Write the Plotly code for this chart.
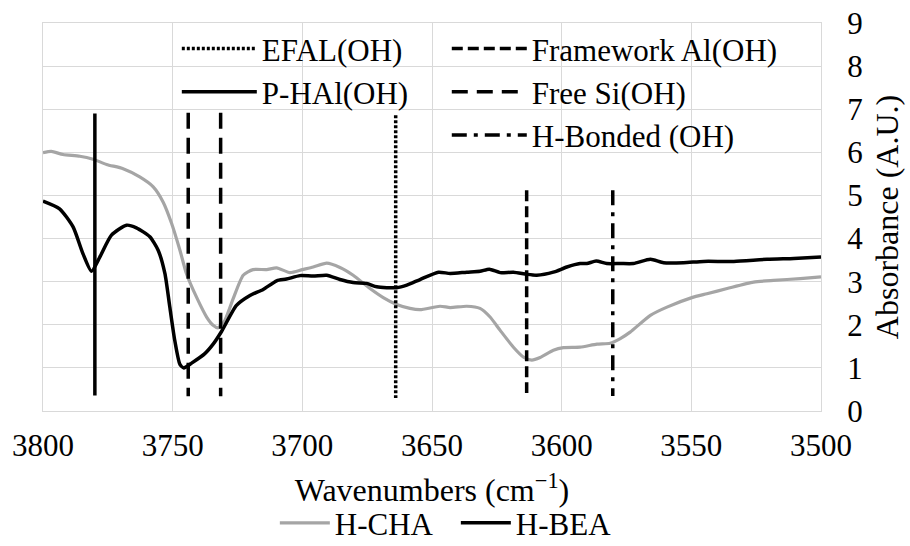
import plotly.graph_objects as go

# ---------------- data ----------------
cha_x = [3800, 3796.8, 3792.3, 3785.8, 3780.7, 3775.5, 3769.1, 3762.7, 3757.5, 3753.7,
         3750.4, 3747.2, 3744.7, 3740.8, 3736.9, 3734.4, 3732.5, 3729.9, 3726.7, 3722.8,
         3719, 3713.8, 3709.9, 3704.8, 3700, 3695.8, 3690.6, 3685.5, 3680.4, 3673.9,
         3668.8, 3663.6, 3658.5, 3654.6, 3646.9, 3643, 3636.6, 3631.5, 3627.6, 3623.7,
         3618.6, 3614.7, 3611.5, 3608.3, 3603.2, 3599.3, 3592.9, 3586.4, 3581.3, 3577.4,
         3573.6, 3565.8, 3559.4, 3549.8, 3544, 3536.2, 3526, 3518.3, 3508, 3500]
cha_y = [5.99, 6.02, 5.95, 5.91, 5.84, 5.72, 5.62, 5.43, 5.20, 4.85,
         4.35, 3.73, 3.19, 2.64, 2.18, 1.99, 1.93, 2.10, 2.60, 3.15,
         3.28, 3.28, 3.32, 3.21, 3.28, 3.34, 3.43, 3.33, 3.15, 2.84,
         2.63, 2.47, 2.38, 2.35, 2.43, 2.40, 2.43, 2.38, 2.18, 1.87,
         1.48, 1.25, 1.18, 1.24, 1.41, 1.47, 1.48, 1.55, 1.57, 1.68,
         1.83, 2.22, 2.41, 2.63, 2.72, 2.84, 2.99, 3.03, 3.07, 3.11]

bea_x = [3800, 3793.6, 3788.4, 3784.6, 3781.3, 3778.1, 3773.6, 3767.8, 3764, 3758.8,
         3755.6, 3753, 3751.1, 3749.2, 3747.2, 3745.7, 3742.7, 3737.6, 3734.4, 3731.1,
         3725.4, 3720.2, 3715.1, 3709.9, 3706.1, 3700.9, 3695.8, 3690.6, 3685.5, 3680.4,
         3675.2, 3671.3, 3663.6, 3659.7, 3654.6, 3647.5, 3643, 3636.6, 3631.5, 3627.9,
         3623.7, 3618.6, 3613.4, 3609.6, 3603.2, 3598, 3592.9, 3590.3, 3586.7, 3582.6,
         3577.4, 3572.3, 3565.8, 3560.7, 3553, 3545.3, 3533.6, 3520.8, 3510.5, 3500]
bea_y = [4.87, 4.69, 4.27, 3.65, 3.24, 3.57, 4.08, 4.31, 4.25, 4.04,
         3.73, 3.19, 2.41, 1.64, 1.08, 1.00, 1.11, 1.33, 1.55, 1.85,
         2.45, 2.68, 2.82, 3.02, 3.06, 3.14, 3.13, 3.15, 3.05, 2.98,
         2.96, 2.88, 2.86, 2.92, 3.05, 3.22, 3.19, 3.22, 3.24, 3.29,
         3.21, 3.22, 3.17, 3.15, 3.22, 3.34, 3.42, 3.42, 3.48, 3.42,
         3.42, 3.42, 3.52, 3.44, 3.44, 3.47, 3.47, 3.52, 3.54, 3.57]

# reference band markers: position(s), top, bottom
efal_x = [3664]
efal_top, efal_bot = 6.86, 0.3
phal_x = [3780]
phal_top, phal_bot = 6.9, 0.36
fw_x = [3613.5]
fw_top, fw_bot = 5.12, 0.42
freesi_x = [3744, 3731.5]
freesi_top, freesi_bot = 6.92, 0.34
hb_x = [3580.3]
hb_top, hb_bot = 5.12, 0.35

x_ticks = [3800, 3750, 3700, 3650, 3600, 3550, 3500]
y_ticks = list(range(0, 10))

FONT = "Liberation Serif"


def vline_xy(xs, top, bot):
    vx, vy = [], []
    for i, x in enumerate(xs):
        if i:
            vx.append(None)
            vy.append(None)
        vx += [x, x]
        vy += [top, bot]
    return vx, vy


fig = go.Figure()

fig.add_trace(go.Scatter(x=cha_x, y=cha_y, mode="lines", name="H-CHA",
                         line=dict(color="#a5a5a5", width=3.2, shape="spline", smoothing=0.6),
                         legend="legend3"))
fig.add_trace(go.Scatter(x=bea_x, y=bea_y, mode="lines", name="H-BEA",
                         line=dict(color="#000000", width=3.5, shape="spline", smoothing=0.6),
                         legend="legend3"))

for name, xs, top, bot, dash, leg in [
    ("EFAL(OH)", efal_x, efal_top, efal_bot, "3px,2px", "legend"),
    ("P-HAl(OH)", phal_x, phal_top, phal_bot, "solid", "legend"),
    ("Framework Al(OH)", fw_x, fw_top, fw_bot, "11px,5px", "legend2"),
    ("Free Si(OH)", freesi_x, freesi_top, freesi_bot, "16px,9px", "legend2"),
    ("H-Bonded (OH)", hb_x, hb_top, hb_bot, "15px,7px,4px,7px", "legend2"),
]:
    vx, vy = vline_xy(xs, top, bot)
    fig.add_trace(go.Scatter(x=vx, y=vy, mode="lines", name=name,
                             line=dict(color="#000000", width=3.5, dash=dash),
                             legend=leg))

legend_common = dict(bgcolor="rgba(0,0,0,0)", borderwidth=0,
                     font=dict(family=FONT, size=31, color="#000000"),
                     xanchor="left", yanchor="top", tracegroupgap=0)

fig.update_layout(
    width=910, height=546,
    margin=dict(l=43, r=89, t=23, b=135, autoexpand=False),
    paper_bgcolor="white", plot_bgcolor="white",
    font=dict(family=FONT, size=31, color="#000000"),
    xaxis=dict(range=[3800, 3500], tickvals=x_ticks, showgrid=True,
               gridcolor="#d9d9d9", gridwidth=1.3, showline=True, linecolor="#d9d9d9",
               linewidth=1.3, mirror=True, zeroline=False, ticks="",
               ticklabelstandoff=7, automargin=False, ticklabeloverflow="allow",
               tickfont=dict(family=FONT, size=31),
               title=dict(text="Wavenumbers (cm<sup>−1</sup>)", standoff=16,
                          font=dict(family=FONT, size=32))),
    yaxis=dict(range=[0, 9], tickvals=y_ticks, side="right", showgrid=True,
               gridcolor="#d9d9d9", gridwidth=1.3, showline=True, linecolor="#d9d9d9",
               linewidth=1.3, mirror=True, zeroline=False, ticks="",
               ticklabelstandoff=19, automargin=False, ticklabeloverflow="allow",
               tickfont=dict(family=FONT, size=31),
               title=dict(text="Absorbance (A.U.)", standoff=13,
                          font=dict(family=FONT, size=32))),
    legend=dict(x=0.172, y=1.003, itemwidth=75, **legend_common),
    legend2=dict(x=0.519, y=1.003, itemwidth=75, **legend_common),
    legend3=dict(orientation="h", x=0.298, y=-0.2196, itemwidth=50, entrywidth=116,
                 bgcolor="rgba(0,0,0,0)", font=dict(family=FONT, size=31, color="#000000"),
                 xanchor="left", yanchor="top"),
)

# remove the page's default body margin so the figure fills the window exactly
fig.write_html("out.html", config={"displayModeBar": False},
               post_script="document.body.style.margin='0';")
